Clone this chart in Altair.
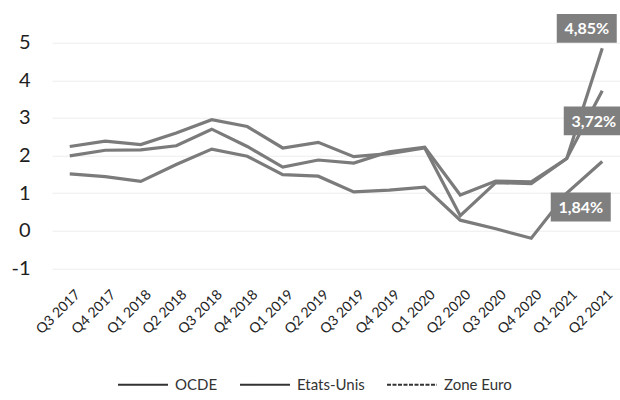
import altair as alt
import pandas as pd

# Quarterly inflation (%, year on year)
quarters = ["Q3 2017", "Q4 2017", "Q1 2018", "Q2 2018", "Q3 2018", "Q4 2018",
            "Q1 2019", "Q2 2019", "Q3 2019", "Q4 2019", "Q1 2020", "Q2 2020",
            "Q3 2020", "Q4 2020", "Q1 2021", "Q2 2021"]
ocde = [1.99, 2.14, 2.15, 2.26, 2.70, 2.24, 1.69, 1.88, 1.80, 2.10, 2.22, 0.95,
        1.32, 1.30, 1.92, 3.72]
etats_unis = [2.24, 2.38, 2.29, 2.60, 2.95, 2.77, 2.20, 2.35, 1.97, 2.05, 2.20, 0.40,
              1.28, 1.25, 1.92, 4.85]
zone_euro = [1.51, 1.44, 1.31, 1.76, 2.17, 1.98, 1.49, 1.45, 1.03, 1.08, 1.16, 0.28,
             0.05, -0.20, 1.00, 1.84]
series = ["OCDE", "Etats-Unis", "Zone Euro"]
y_ticks = [-1, 0, 1, 2, 3, 4, 5]

rows = []
for name, vals in zip(series, [ocde, etats_unis, zone_euro]):
    for q, v in zip(quarters, vals):
        rows.append({"trimestre": q, "serie": name, "valeur": v})
df = pd.DataFrame(rows)

FONT = "Lato"
LINE_GRAY = "#7b7b7b"
BOX_GRAY = "#7f7f7f"

x_enc = alt.X("trimestre:N", sort=quarters,
              scale=alt.Scale(type="point", padding=0.5),
              axis=alt.Axis(title=None, labelAngle=-45, labelAlign="right",
                            labelBaseline="top", labelPadding=19, labelOffset=3,
                            labelFontSize=14, labelFont=FONT, labelColor="#1e1e1e",
                            ticks=False, domain=False, grid=False))
y_enc = alt.Y("valeur:Q",
              scale=alt.Scale(domain=[-1, 5], nice=False, zero=False),
              axis=alt.Axis(title=None, values=y_ticks, labelExpr="datum.value + ''",
                            labelFontSize=20, labelFont=FONT, labelColor="#1e1e1e",
                            labelPadding=22, ticks=False, domain=False,
                            grid=True, gridColor="#ededed", gridWidth=1))

lines = alt.Chart(df).mark_line(strokeWidth=3.2, color=LINE_GRAY).encode(
    x=x_enc, y=y_enc, detail="serie:N",
    order=alt.Order("idx:Q")
).transform_window(idx="row_number()", groupby=["serie"])

# Legend only: empty data, explicit domain keeps the entries
leg = alt.Legend(title=None, orient="none", direction="horizontal", columns=3,
                 legendX=65, legendY=316, padding=0, symbolSize=2500,
                 symbolStrokeWidth=2, labelFont=FONT, labelFontSize=15,
                 labelColor="#333333", labelOffset=6, columnPadding=18)
legend_layer = alt.Chart(df).transform_filter("false").mark_line(strokeWidth=2).encode(
    x=x_enc, y=y_enc,
    color=alt.Color("serie:N", scale=alt.Scale(domain=series,
                                               range=["#333333", "#333333", "#333333"]),
                    legend=leg),
    strokeDash=alt.StrokeDash("serie:N",
                              scale=alt.Scale(domain=series,
                                              range=[[1, 0], [1, 0], [4, 1.5]]),
                              legend=leg),
)

# End-of-series value boxes
last_q = quarters[-1]
label_offsets = {"Etats-Unis": (-15.5, -20), "OCDE": (-8.5, 30), "Zone Euro": (-21.5, 45.5)}
box_path = "M-1,-0.48L1,-0.48L1,0.48L-1,0.48Z"
label_layers = []
for name in series:
    dx, dy = label_offsets[name]
    sub = df[(df.trimestre == last_q) & (df.serie == name)].copy()
    sub["label"] = sub["valeur"].map(lambda v: f"{v:.2f}".replace(".", ",") + "%")
    base = alt.Chart(sub).encode(x=x_enc, y=y_enc)
    box = base.mark_point(shape=box_path, size=3600, filled=True, opacity=1,
                          color=BOX_GRAY, strokeWidth=0, xOffset=dx, yOffset=dy)
    txt = base.mark_text(font=FONT, fontSize=16, fontWeight="bold", color="white",
                         align="center", baseline="middle", dx=dx, dy=dy + 1).encode(
        text="label:N")
    label_layers += [box, txt]

chart = alt.layer(lines, legend_layer, *label_layers).properties(
    width=568, height=225.6,
    padding={"left": 52, "top": 42.7, "right": 0, "bottom": 131.7},
    autosize=alt.AutoSizeParams(type="none"),
    background="white",
).configure_view(stroke=None)

chart.save("out.html", embed_options={"renderer": "svg", "actions": False})
